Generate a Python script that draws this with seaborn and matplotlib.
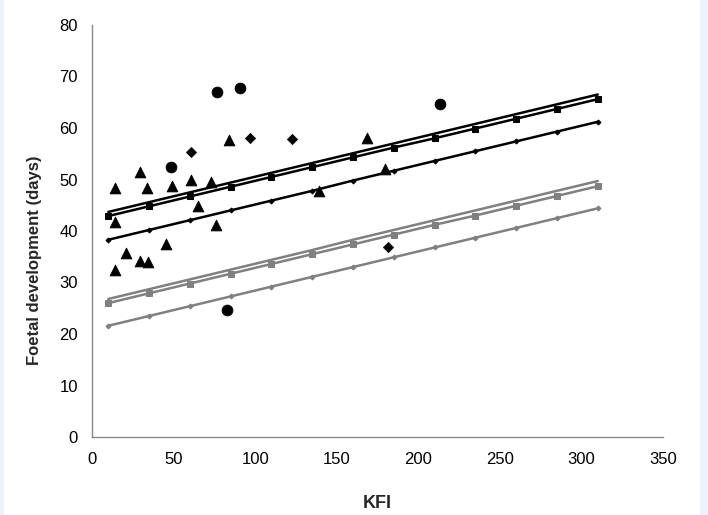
import pandas as pd
import matplotlib.pyplot as plt
import seaborn as sns
from matplotlib.patches import Rectangle

# regression lines at each marker
kfi = [10, 35, 60, 85, 110, 135, 160, 185, 210, 235, 260, 285, 310]
black_a = [43.7, 45.6, 47.5, 49.4, 51.3, 53.2, 55.1, 57.0, 58.9, 60.8, 62.7, 64.6, 66.5]
black_b = [42.9, 44.8, 46.7, 48.6, 50.5, 52.4, 54.3, 56.2, 58.0, 59.9, 61.8, 63.7, 65.6]
black_c = [38.3, 40.2, 42.1, 44.0, 45.9, 47.8, 49.8, 51.7, 53.6, 55.5, 57.4, 59.3, 61.2]
grey_a = [26.8, 28.7, 30.6, 32.5, 34.4, 36.3, 38.3, 40.2, 42.1, 44.0, 45.9, 47.8, 49.7]
grey_b = [26.0, 27.9, 29.8, 31.7, 33.6, 35.5, 37.4, 39.3, 41.2, 43.0, 44.9, 46.8, 48.7]
grey_c = [21.6, 23.5, 25.4, 27.3, 29.2, 31.1, 33.0, 34.9, 36.8, 38.7, 40.6, 42.5, 44.4]

# observed points
circle_x = [76.4, 90.7, 48.2, 213.2, 82.7]
circle_y = [67.0, 67.8, 52.5, 64.7, 24.7]
diamond_x = [60.7, 96.8, 122.7, 181.4]
diamond_y = [55.4, 58.1, 57.8, 36.8]
triangle_x = [14.1, 29.4, 33.5, 49.2, 60.9, 73.1, 84.1, 65.1, 75.8, 14.1, 139.1,
              168.3, 179.5, 45.3, 20.6, 29.4, 34.5, 14.1]
triangle_y = [48.3, 51.5, 48.3, 48.8, 50.0, 49.6, 57.6, 44.8, 41.1, 41.8, 47.7,
              58.0, 52.1, 37.4, 35.7, 34.1, 34.0, 32.5]

sns.set_style("white")
plt.rcParams['font.family'] = ['Liberation Sans', 'DejaVu Sans']

fig = plt.figure(figsize=(7.08, 5.15), dpi=100)
fig.patch.set_facecolor('#eef2fb')
fig.patches.append(Rectangle((4 / 708, 0), 696 / 708, 1, transform=fig.transFigure,
                             facecolor='white', edgecolor='none', zorder=-10))
ax = fig.add_axes([92 / 708, 78 / 515, 571 / 708, 412 / 515])
ax.set_facecolor('white')
ax.set_zorder(1)

lines = [
    (black_a, 'black', None, 0),
    (black_b, 'black', 's', 4),
    (black_c, 'black', 'D', 2.5),
    (grey_a, '#808080', None, 0),
    (grey_b, '#808080', 's', 4),
    (grey_c, '#808080', 'D', 2.5),
]
for ys, col, mk, ms in lines:
    sns.lineplot(x=kfi, y=ys, ax=ax, color=col, lw=1.8, marker=mk, markersize=ms,
                 markeredgecolor=col, markerfacecolor=col, zorder=3)

sns.scatterplot(x=circle_x, y=circle_y, ax=ax, marker='o', s=60, color='black',
                edgecolor='black', zorder=4)
sns.scatterplot(x=diamond_x, y=diamond_y, ax=ax, marker='D', s=28, color='black',
                edgecolor='black', zorder=4)
sns.scatterplot(x=triangle_x, y=triangle_y, ax=ax, marker='^', s=60, color='black',
                edgecolor='black', zorder=4)

ax.set_xlim(0, 350)
ax.set_ylim(0, 80)
ax.set_xticks(range(0, 351, 50))
ax.set_yticks(range(0, 81, 10))
for side in ['top', 'right']:
    ax.spines[side].set_visible(False)
for side in ['left', 'bottom']:
    ax.spines[side].set_color('#888888')
    ax.spines[side].set_linewidth(1)
ax.tick_params(axis='both', direction='out', length=3, width=1, color='#888888',
               labelsize=12, labelcolor='black')
ax.tick_params(axis='y', pad=7)
ax.tick_params(axis='x', pad=8)

ax.set_xlabel('KFI', fontsize=13, fontweight='bold', labelpad=20)
ax.set_ylabel('Foetal development (days)', fontsize=12, fontweight='bold')
ax.yaxis.set_label_coords(-0.088, 0.43)

fig.savefig('out.png', dpi=100, facecolor=fig.get_facecolor())
